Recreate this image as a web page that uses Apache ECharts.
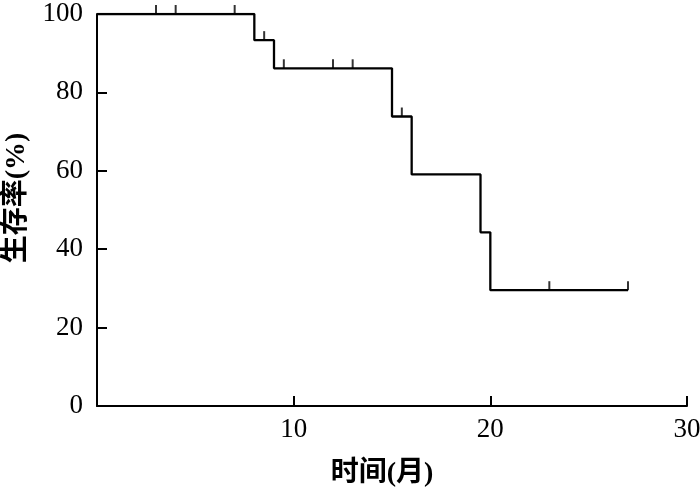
<!DOCTYPE html>
<html>
<head>
<meta charset="utf-8">
<script src="https://cdn.jsdelivr.net/npm/echarts@6/dist/echarts.min.js"></script>
<style>html,body{margin:0;padding:0;background:#fff}#c{width:700px;height:491px}</style>
</head>
<body>
<div id="c"></div>
<script>
// Kaplan-Meier step points: [time (months), survival (%)]
var stepTimes = [0, 8, 9, 15, 16, 19.5, 20, 27];
var stepValues = [100, 93.33, 86.15, 73.85, 59.08, 44.31, 29.54, 29.54];
// censored observations
var censorTimes = [3, 4, 7, 8.5, 9.5, 12, 13, 15.5, 23, 27];
var censorValues = [100, 100, 100, 93.33, 86.15, 86.15, 86.15, 73.85, 29.54, 29.54];
var xTicks = [0, 10, 20, 30];
var yTicks = [0, 20, 40, 60, 80, 100];

var curve = stepTimes.map(function (t, i) { return [t, stepValues[i]]; });
var censors = censorTimes.map(function (t, i) { return [t, censorValues[i]]; });

var numFont = 'Liberation Serif, Times New Roman, serif';
var cjkFont = 'Liberation Serif, Noto Sans CJK SC, serif';

var chart = echarts.init(document.getElementById('c'));
chart.setOption({
  animation: false,
  backgroundColor: '#fff',
  grid: { left: 97, right: 13, top: 14, bottom: 85, containLabel: false, outerBoundsMode: 'none' },
  xAxis: {
    type: 'value',
    min: xTicks[0], max: xTicks[xTicks.length - 1], interval: 10,
    name: '时间(月)',
    nameLocation: 'middle',
    nameGap: 54,
    nameTextStyle: { fontFamily: cjkFont, fontSize: 28, fontWeight: 'bold', color: '#000', padding: [0, 20, 0, 0] },
    axisLine: { lineStyle: { color: '#000', width: 2 } },
    axisTick: { inside: true, length: 10, lineStyle: { color: '#000', width: 2 } },
    axisLabel: { showMinLabel: false, fontFamily: numFont, fontSize: 27, color: '#000', margin: 10 },
    splitLine: { show: false }
  },
  yAxis: {
    type: 'value',
    min: yTicks[0], max: yTicks[yTicks.length - 1], interval: 20,
    name: '生存率(%)',
    nameLocation: 'middle',
    nameGap: 66,
    nameTextStyle: { fontFamily: cjkFont, fontSize: 28, fontWeight: 'bold', color: '#000', padding: [0, 0, 0, 24] },
    axisLine: { show: true, lineStyle: { color: '#000', width: 2 } },
    axisTick: { show: true, inside: true, length: 10, lineStyle: { color: '#000', width: 2 } },
    axisLabel: { fontFamily: numFont, fontSize: 27, color: '#000', margin: 14 },
    splitLine: { show: false }
  },
  series: [
    {
      type: 'line',
      step: 'end',
      data: curve,
      symbol: 'none',
      lineStyle: { color: '#000', width: 2.3 },
      z: 3
    },
    {
      type: 'scatter',
      data: censors,
      symbol: 'rect',
      symbolSize: [2, 9],
      symbolOffset: [0, -4.5],
      itemStyle: { color: '#000' },
      z: 4
    }
  ]
});
</script>
</body>
</html>
